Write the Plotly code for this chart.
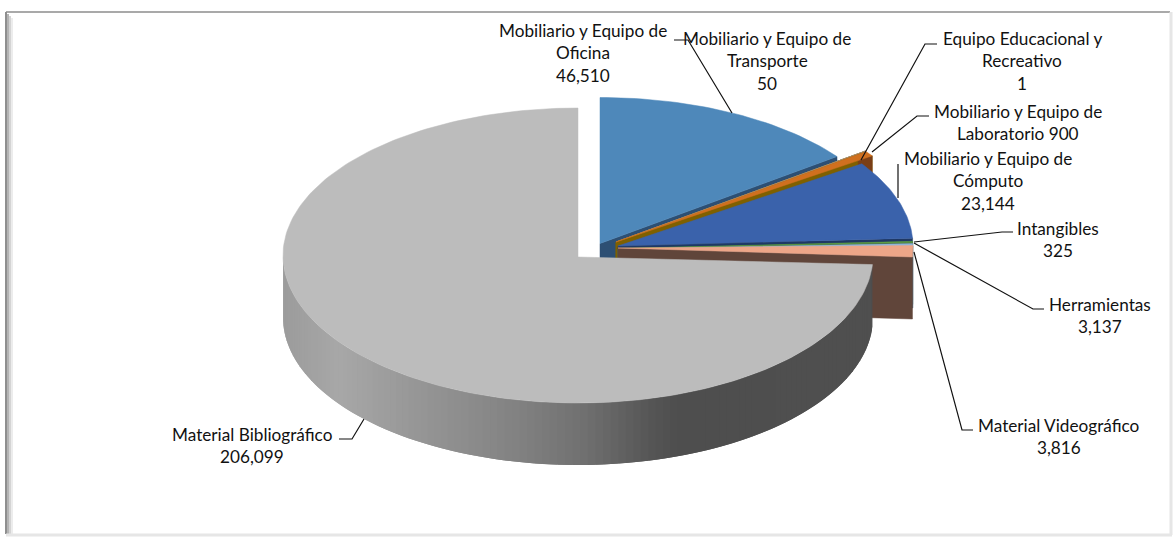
import numpy as np
import plotly.graph_objects as go

# data
CATEGORIES = [
    "Mobiliario y Equipo de Oficina",
    "Mobiliario y Equipo de Transporte",
    "Equipo Educacional y Recreativo",
    "Mobiliario y Equipo de Laboratorio",
    "Mobiliario y Equipo de Cómputo",
    "Intangibles",
    "Herramientas",
    "Material Videográfico",
    "Material Bibliográfico",
]
VALUES = [46510, 50, 1, 900, 23144, 325, 3137, 3816, 206099]

LABEL_LINES = [
    ["Mobiliario y Equipo de", "Oficina", "{v}"],
    ["Mobiliario y Equipo de", "Transporte", "{v}"],
    ["Equipo Educacional y", "Recreativo", "{v}"],
    ["Mobiliario y Equipo de", "Laboratorio {v}"],
    ["Mobiliario y Equipo de", "Cómputo", "{v}"],
    ["Intangibles", "{v}"],
    ["Herramientas", "{v}"],
    ["Material Videográfico", "{v}"],
    ["Material Bibliográfico", "{v}"],
]

# styling, page pixels
TOP_COLORS = ["#4e88ba", "#d0701f", "#a5a5a5", "#d0701f", "#3a62ab", "#5f9e45", "#8fb4d9", "#eda688", "#bcbcbc"]
WALL_COLORS = ["#2d4f73", "#7f6000", "#7f6000", "#7f6000", "#1f3864", "#38602a", "#55708c", "#60453a", "#555555"]
CENTERS = [(600, 243.5), (616, 242), (616, 242), (616, 242), (618, 246),
           (618, 248.5), (618, 249), (618, 248), (578, 255.5)]
RADII = [(295, 146), (310, 153), (310, 153), (310, 153), (295, 146),
         (295, 146), (295, 146), (295, 146), (295, 147.5)]
DEPTH = 62
LABEL_POS = [(583, 30), (767, 38), (1022, 38), (1018, 111), (988, 158),
             (1058, 228), (1100, 304), (1059, 425), (252, 434)]
LINE_GAP = 22.7
LEADERS = [
    [(674, 40), (688, 40), (732, 113)],
    [(937, 44), (925, 44), (861, 160)],
    [(929, 116), (917, 116), (872, 152)],
    [(898, 164), (898, 198)],
    [(1013, 232), (1002, 232), (914, 242)],
    [(1044, 309), (1033, 309), (914, 243)],
    [(973, 430), (962, 430), (914, 252)],
    [(339, 439), (352, 439), (364, 419)],
]
# Excel's 3D view squeezes the angles a bit, degrees in -> degrees drawn
ANGLE_IN = [0, 59, 60.2, 89.5, 89.9, 93.9, 98.7, 360]
ANGLE_OUT = [0, 53.5, 55.8, 86.9, 87.6, 88.8, 93.5, 360]
SIDE_X = [283, 340, 420, 500, 580, 650, 680, 873]
SIDE_GRAY = [0x9c, 0xa8, 0x96, 0x86, 0x72, 0x56, 0x4e, 0x50]

fig = go.Figure()


def add_poly(points, color, name="", line_width=0.5):
    xs, ys = zip(*points)
    fig.add_trace(go.Scatter(
        x=list(xs) + [xs[0]], y=list(ys) + [ys[0]],
        mode="lines", fill="toself", fillcolor=color,
        line=dict(color=color, width=line_width),
        name=name, hoverinfo="name" if name else "skip",
    ))


def arc_point(i, t_deg):
    cx, cy = CENTERS[i]
    rx, ry = RADII[i]
    t = np.radians(t_deg)
    return cx + rx * np.sin(t), cy - ry * np.cos(t)


cum = np.cumsum([0] + VALUES) / sum(VALUES) * 360
drawn = np.interp(cum, ANGLE_IN, ANGLE_OUT)

# exploded slices, back to front
for i in range(len(VALUES) - 1):
    cx, cy = CENTERS[i]
    t0, t1 = drawn[i], drawn[i + 1]
    ex, ey = arc_point(i, t1)
    add_poly([(cx, cy), (ex, ey), (ex, ey + DEPTH), (cx, cy + DEPTH)], WALL_COLORS[i])
    if CATEGORIES[i].endswith("Laboratorio"):
        # small bit of the rim that shows past the next slice
        add_poly([(ex, ey), (ex, ey + 17), (ex - 14, ey + 17), (ex - 14, ey + 4)], "#7a3f17")
    arc = [arc_point(i, t) for t in np.linspace(t0, t1, 40)]
    add_poly([(cx, cy)] + arc, TOP_COLORS[i], CATEGORIES[i])

# big slice: rim as overlapping strips for the gradient, then the top
last = len(VALUES) - 1
t0 = drawn[last]
rim = np.linspace(t0, 270, 120)
for k in range(len(rim) - 1):
    ts = np.linspace(rim[k], rim[min(k + 2, len(rim) - 1)], 5)
    outer = [arc_point(last, t) for t in ts]
    g = int(np.interp(outer[1][0], SIDE_X, SIDE_GRAY))
    lower = [(x, y + DEPTH) for x, y in reversed(outer)]
    add_poly(outer + lower, f"rgb({g},{g},{g})", line_width=0)
arc = [arc_point(last, t) for t in np.linspace(t0, 360, 200)]
add_poly([(578, 257)] + arc, TOP_COLORS[last], CATEGORIES[last])

# leader lines
for pts in LEADERS:
    xs, ys = zip(*pts)
    fig.add_trace(go.Scatter(x=xs, y=ys, mode="lines", line=dict(color="#111111", width=1.2), hoverinfo="skip"))

# labels
for lines, value, (lx, ly) in zip(LABEL_LINES, VALUES, LABEL_POS):
    for j, line in enumerate(lines):
        fig.add_annotation(
            x=lx, y=ly + j * LINE_GAP, text=line.format(v=f"{value:,}"),
            showarrow=False, xanchor="center", yanchor="middle",
            font=dict(family="Lato", size=17.2, color="#111111"),
        )

# chart frame with its soft shadow
frame = [
    dict(x0=6, x1=6, y0=12, y1=534, line=dict(color="#8f8f8f", width=2)),
    dict(x0=8, x1=8, y0=14, y1=534, line=dict(color="#b4b4b4", width=2)),
    dict(x0=10, x1=10, y0=16, y1=534, line=dict(color="#d4d4d4", width=2)),
    dict(x0=12, x1=12, y0=18, y1=534, line=dict(color="#ececec", width=2)),
    dict(x0=6, x1=1170, y0=12, y1=12, line=dict(color="#8c8c8c", width=1.5)),
    dict(x0=6, x1=1172, y0=535, y1=535, line=dict(color="#e6e6e6", width=3)),
    dict(x0=1171, x1=1171, y0=12, y1=535, line=dict(color="#e6e6e6", width=3)),
]
for s in frame:
    fig.add_shape(type="line", xref="x", yref="y", layer="below", **s)

fig.update_layout(
    width=1175, height=538,
    margin=dict(l=0, r=0, t=0, b=0),
    paper_bgcolor="white", plot_bgcolor="white",
    showlegend=False,
    xaxis=dict(range=[0, 1175], visible=False, fixedrange=True),
    yaxis=dict(range=[538, 0], visible=False, fixedrange=True),
)

fig.write_html(
    "out.html",
    config=dict(displayModeBar=False),
    post_script="document.body.style.margin='0';document.body.style.overflow='hidden';",
)
